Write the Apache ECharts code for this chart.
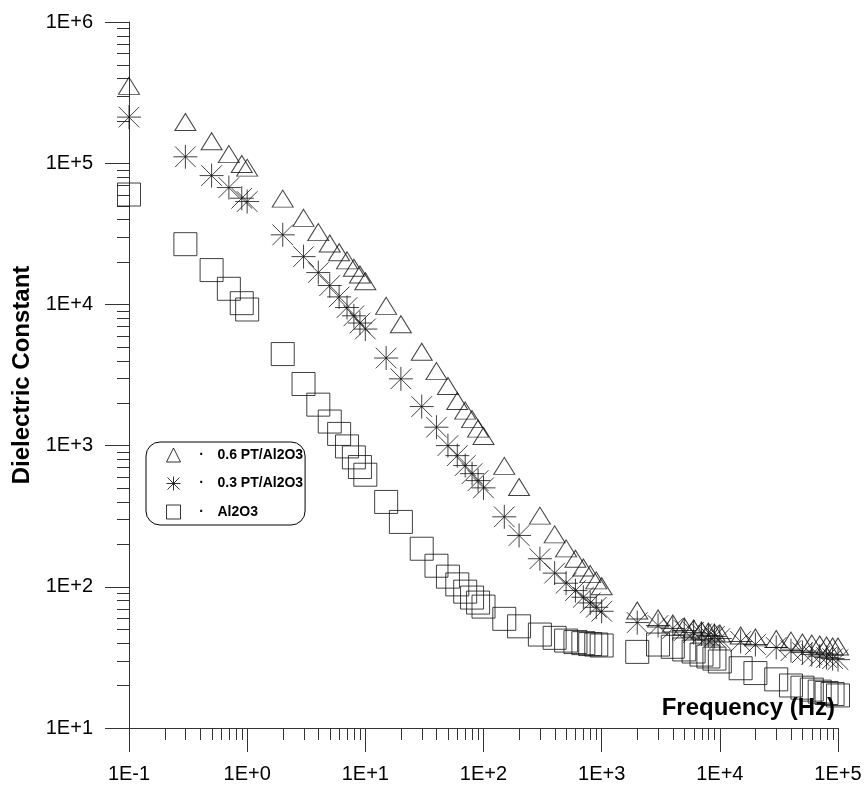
<!DOCTYPE html>
<html><head><meta charset="utf-8">
<script src="https://cdn.jsdelivr.net/npm/echarts@6/dist/echarts.min.js"></script>
<style>html,body{margin:0;padding:0;background:#fff}#c{width:866px;height:789px}</style>
</head><body><div id="c"></div>
<script>
const frequencies = [0.1,0.3,0.5,0.7,0.9,1,
  2,3,4,5,6,7,8,9,10,
  15,20,30,40,50,60,70,80,90,100,
  150,200,300,400,500,600,700,800,900,1000,
  2000,3000,4000,5000,6000,7000,8000,9000,10000,
  15000,20000,30000,40000,50000,60000,70000,80000,90000,100000];
const pt06 = [3.53e5,1.96e5,1.43e5,1.16e5,9.86e4,9.3e4,
  5.61e4,4.1e4,3.25e4,2.70e4,2.34e4,2.05e4,1.82e4,1.63e4,1.46e4,
  9770,7230,4620,3370,2640,2070,1770,1540,1320,1170,
  718,509,319,235,187,158,137,123,111,101,
  68,59.6,55.0,52.4,50.7,49.0,48.2,47.4,46.7,
  45.2,43.8,42.7,41.6,40.3,39.6,39.0,38.4,37.8,37.8];
const pt03 = [2.12e5,1.11e5,8.17e4,6.72e4,5.65e4,5.35e4,
  3.11e4,2.18e4,1.68e4,1.36e4,1.13e4,9500,8300,7380,6690,
  4170,2970,1890,1350,1000,849,722,633,565,502,
  313,231,158,125,106,94,84.3,76.9,71.6,67.1,
  55.8,53.2,50.7,49.0,47.5,46.4,45.2,44.5,43.0,
  41,39,37.2,35.3,34.2,33.1,32.3,31.6,31.0,30.5];
const al2o3 = [6.0e4,2.67e4,1.75e4,1.29e4,1.02e4,9200,
  4450,2730,1950,1480,1210,987,825,705,622,
  399,288,186,141,118,104,92.4,83.9,77.3,72.4,
  59.3,52.5,45.9,43.5,41.6,40.6,39.9,39.3,39.0,38.4,
  34.6,39,37.6,36,34.8,33.1,32.1,31,29.6,
  26.5,24.5,22.1,20,19.3,18.7,18.1,17.7,17.4,17.0];
const seriesNames = ['0.6 PT/Al2O3','0.3 PT/Al2O3','Al2O3'];
const xTickLabels = ['1E-1','1E+0','1E+1','1E+2','1E+3','1E+4','1E+5'];
const yTickLabels = ['1E+1','1E+2','1E+3','1E+4','1E+5','1E+6'];
const xExponents = [-1,0,1,2,3,4];
const yExponents = [1,2,3,4,5];
const minorMultipliers = [2,3,4,5,6,7,8,9];
const xAxisTitle = 'Frequency (Hz)';
const yAxisTitle = 'Dielectric Constant';

const X_MIN = 0.1, X_MAX = 1e5, Y_MIN = 10, Y_MAX = 1e6;
const FONT = '"Liberation Sans", Arial, Helvetica, sans-serif';
const INK = '#000';
const AXIS = '#333';

const xMinor = [];
xExponents.forEach(e => minorMultipliers.forEach(m => xMinor.push([m * Math.pow(10, e), Y_MIN])));
const yMinor = [];
yExponents.forEach(e => minorMultipliers.forEach(m => yMinor.push([X_MIN, m * Math.pow(10, e)])));

const asterisk = 'path://M1,0L1,2M0,1L2,1M0.14,0.14L1.86,1.86M0.14,1.86L1.86,0.14';

function pairs(vals) { return frequencies.map((f, i) => [f, vals[i]]); }
const markStyle = {color: 'transparent', borderColor: '#111', borderWidth: 1};

const chart = echarts.init(document.getElementById('c'), null, {renderer: 'canvas'});
chart.setOption({
  animation: false,
  backgroundColor: '#fff',
  textStyle: {fontFamily: FONT},
  grid: {left: 129, right: 28, top: 22, bottom: 61, containLabel: false, outerBoundsMode: 'none'},
  xAxis: {
    type: 'log', logBase: 10, min: X_MIN, max: X_MAX, splitNumber: 6,
    axisLine: {onZero: false, lineStyle: {color: AXIS, width: 1}},
    axisTick: {inside: false, length: 24, lineStyle: {color: AXIS, width: 1}},
    splitLine: {show: false},
    axisLabel: {margin: 36, fontSize: 20, color: INK, fontFamily: FONT, showMinLabel: true, showMaxLabel: true,
      formatter: v => xTickLabels[Math.round(Math.log10(v)) + 1]}
  },
  yAxis: {
    type: 'log', logBase: 10, min: Y_MIN, max: Y_MAX, splitNumber: 5,
    name: yAxisTitle, nameLocation: 'middle', nameGap: 95, nameRotate: 90,
    nameTextStyle: {fontSize: 24, fontWeight: 'bold', color: INK, fontFamily: FONT},
    axisLine: {onZero: false, lineStyle: {color: AXIS, width: 1}},
    axisTick: {inside: false, length: 24, lineStyle: {color: AXIS, width: 1}},
    splitLine: {show: false},
    axisLabel: {margin: 36, fontSize: 20, color: INK, fontFamily: FONT, showMinLabel: true, showMaxLabel: true,
      formatter: v => yTickLabels[Math.round(Math.log10(v)) - 1]}
  },
  legend: {
    data: seriesNames,
    orient: 'vertical', left: 146, top: 442,
    padding: [5, 2, 5, 20],
    itemWidth: 14, itemHeight: 14, itemGap: 12.5,
    borderColor: '#000', borderWidth: 1, borderRadius: 14,
    itemStyle: {color: 'transparent', borderColor: '#000', borderWidth: 1},
    formatter: name => '{d|\u00b7}{t|' + name + '}',
    textStyle: {fontSize: 14, fontWeight: 'bold', color: INK, fontFamily: FONT, lineHeight: 16,
      rich: {
        d: {width: 32, align: 'center', fontSize: 14, fontWeight: 'bold', color: INK, lineHeight: 16},
        t: {fontSize: 14, fontWeight: 'bold', color: INK, fontFamily: FONT, lineHeight: 16}
      }}
  },
  graphic: [{
    type: 'text', right: 31, top: 696, z: 100,
    style: {text: xAxisTitle, font: 'bold 24px ' + FONT, fill: INK}
  }],
  series: [
    {name: seriesNames[2], type: 'scatter', symbol: 'rect', symbolSize: 23, data: pairs(al2o3), itemStyle: markStyle, emphasis: {disabled: true}},
    {name: seriesNames[1], type: 'scatter', symbol: asterisk, symbolSize: 24, data: pairs(pt03), itemStyle: markStyle, emphasis: {disabled: true}},
    {name: seriesNames[0], type: 'scatter', symbol: 'triangle', symbolSize: [21, 17], data: pairs(pt06), itemStyle: markStyle, emphasis: {disabled: true}},
    {
      type: 'custom', name: 'xminor', clip: false, silent: true, data: xMinor,
      renderItem: (params, api) => {
        const p = api.coord([api.value(0), api.value(1)]);
        const x = Math.round(p[0]) + 0.5;
        return {type: 'line', shape: {x1: x, y1: p[1], x2: x, y2: p[1] + 12}, style: {stroke: AXIS, lineWidth: 1}};
      }
    },
    {
      type: 'custom', name: 'yminor', clip: false, silent: true, data: yMinor,
      renderItem: (params, api) => {
        const p = api.coord([api.value(0), api.value(1)]);
        const y = Math.round(p[1]) + 0.5;
        return {type: 'line', shape: {x1: p[0] - 12, y1: y, x2: p[0], y2: y}, style: {stroke: AXIS, lineWidth: 1}};
      }
    }
  ]
});
</script></body></html>
